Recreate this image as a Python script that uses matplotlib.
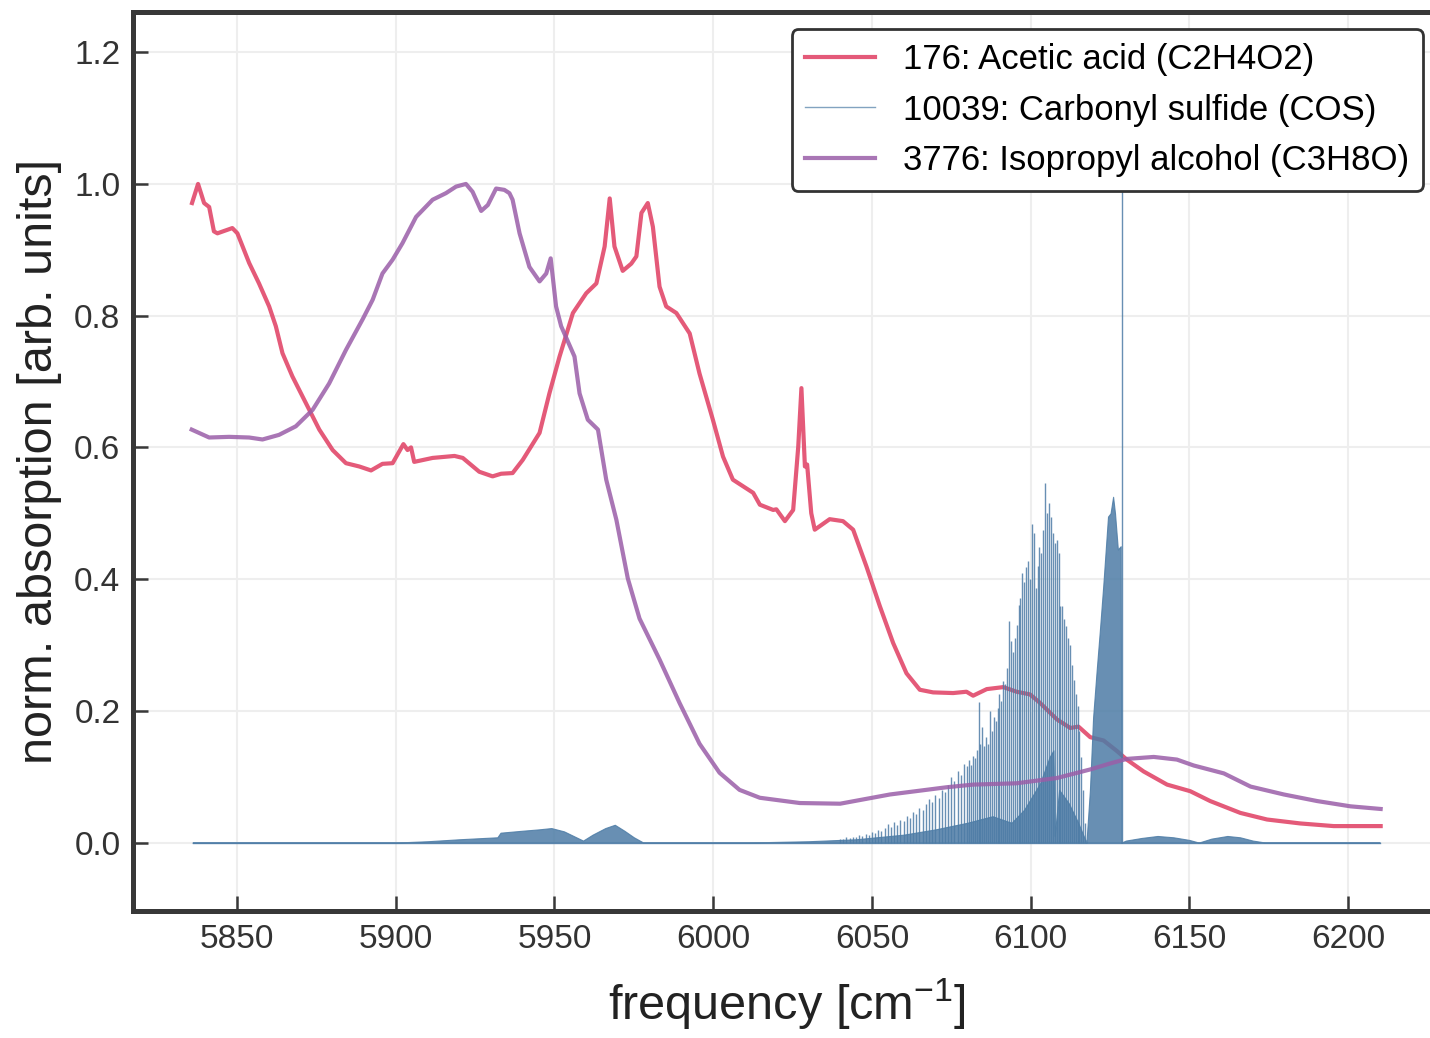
from matplotlib import pyplot as plt
from matplotlib.lines import Line2D
import numpy as np

# 176: Acetic acid
acetic_x = [5835.8, 5837.7, 5839.6, 5841.2, 5842.7, 5843.8, 5848.5, 5850.1, 5853.8, 5856.9,
            5860.1, 5862.2, 5864.3, 5867.4, 5871.7, 5875.9, 5880.1, 5884.3, 5888.5, 5892.2,
            5895.8, 5899.0, 5902.4, 5903.7, 5904.8, 5905.8, 5911.6, 5918.5, 5921.1, 5926.3,
            5930.5, 5933.2, 5936.8, 5940.0, 5945.3, 5948.4, 5951.6, 5955.8, 5960.0, 5963.2,
            5965.8, 5967.4, 5968.9, 5971.5, 5974.2, 5975.8, 5977.4, 5979.4, 5981.0, 5983.1,
            5985.2, 5988.4, 5992.6, 5995.7, 5999.9, 6003.1, 6006.2, 6009.4, 6012.6, 6014.7,
            6018.9, 6019.9, 6022.6, 6025.2, 6026.8, 6027.8, 6028.9, 6029.6, 6030.9, 6032.0,
            6036.7, 6040.9, 6044.1, 6048.3, 6052.5, 6056.7, 6060.9, 6065.1, 6069.3, 6075.6,
            6079.8, 6081.9, 6086.2, 6091.4, 6095.6, 6099.8, 6103.0, 6108.3, 6112.5, 6115.1,
            6118.8, 6123.0, 6127.2, 6130.3, 6135.6, 6143.0, 6150.3, 6156.6, 6166.1, 6174.5,
            6185.0, 6195.5, 6210.3]
acetic_y = [0.971, 1.000, 0.971, 0.965, 0.928, 0.925, 0.933, 0.925, 0.880, 0.849,
            0.814, 0.784, 0.743, 0.708, 0.667, 0.627, 0.596, 0.576, 0.571, 0.565,
            0.575, 0.576, 0.605, 0.596, 0.600, 0.578, 0.584, 0.587, 0.584, 0.563,
            0.556, 0.560, 0.561, 0.581, 0.622, 0.682, 0.738, 0.804, 0.834, 0.849,
            0.905, 0.978, 0.905, 0.868, 0.879, 0.890, 0.956, 0.971, 0.935, 0.844,
            0.814, 0.804, 0.773, 0.712, 0.642, 0.586, 0.551, 0.541, 0.531, 0.513,
            0.505, 0.506, 0.488, 0.505, 0.601, 0.690, 0.571, 0.574, 0.500, 0.475,
            0.491, 0.488, 0.475, 0.419, 0.359, 0.303, 0.257, 0.232, 0.228, 0.227,
            0.229, 0.223, 0.233, 0.236, 0.229, 0.225, 0.212, 0.187, 0.174, 0.176,
            0.160, 0.155, 0.139, 0.126, 0.108, 0.088, 0.078, 0.063, 0.045, 0.035,
            0.029, 0.025, 0.025]

# 3776: Isopropyl alcohol
iso_x = [5835.7, 5841.2, 5847.5, 5853.8, 5858.0, 5863.2, 5868.5, 5873.8, 5879.0, 5884.3,
         5889.5, 5892.7, 5895.8, 5899.0, 5902.1, 5906.4, 5911.6, 5915.8, 5919.0, 5922.1,
         5924.2, 5926.9, 5929.0, 5931.6, 5934.2, 5935.8, 5936.8, 5939.0, 5942.1, 5945.3,
         5947.4, 5948.8, 5950.5, 5952.1, 5956.3, 5957.9, 5960.5, 5963.7, 5966.3, 5969.5,
         5973.1, 5976.8, 5983.1, 5989.4, 5995.7, 6002.0, 6008.3, 6014.7, 6027.3, 6040.0,
         6055.7, 6073.6, 6081.9, 6095.6, 6108.3, 6118.8, 6125.0, 6130.3, 6138.8, 6146.1,
         6151.4, 6160.9, 6169.3, 6179.8, 6190.3, 6200.8, 6210.3]
iso_y = [0.627, 0.615, 0.616, 0.615, 0.612, 0.619, 0.632, 0.657, 0.697, 0.748,
         0.794, 0.824, 0.864, 0.885, 0.910, 0.950, 0.976, 0.986, 0.996, 1.000,
         0.988, 0.959, 0.968, 0.993, 0.991, 0.986, 0.976, 0.925, 0.874, 0.852,
         0.864, 0.887, 0.814, 0.784, 0.738, 0.682, 0.642, 0.627, 0.551, 0.490,
         0.401, 0.340, 0.278, 0.212, 0.150, 0.106, 0.080, 0.068, 0.060, 0.059,
         0.073, 0.084, 0.088, 0.090, 0.098, 0.111, 0.120, 0.127, 0.130, 0.126,
         0.117, 0.105, 0.085, 0.073, 0.063, 0.055, 0.051]

# 10039: Carbonyl sulfide - resolved lines (position, peak)
cos_line_x = [6040.0, 6041.0, 6042.0, 6043.0, 6044.0, 6045.0, 6046.0, 6047.0, 6048.0, 6049.0,
              6050.0, 6051.0, 6052.0, 6053.0, 6054.0, 6055.0, 6056.0, 6057.0, 6058.0, 6059.0,
              6060.0, 6061.0, 6062.0, 6063.0, 6064.0, 6065.0, 6066.0, 6067.0, 6068.0, 6069.0,
              6070.0, 6071.0, 6072.0, 6073.0, 6074.0, 6075.0, 6076.0, 6077.0, 6078.0, 6079.0,
              6080.0, 6080.6, 6081.2, 6081.8, 6082.4, 6083.0, 6083.6, 6084.2, 6084.8, 6085.4,
              6086.0, 6086.6, 6087.2, 6087.8, 6088.4, 6089.0, 6089.6, 6090.2, 6090.8, 6091.4,
              6092.0, 6092.6, 6093.2, 6093.8, 6094.4, 6095.0, 6095.6, 6096.2, 6096.8, 6097.4,
              6098.0, 6098.6, 6099.2, 6099.8, 6100.4, 6101.0, 6101.6, 6102.2, 6102.8, 6103.4,
              6104.0, 6104.6, 6105.2, 6105.8, 6106.4, 6107.0, 6107.6, 6108.2, 6108.8, 6109.4,
              6110.0, 6110.6, 6111.2, 6111.8, 6112.4, 6113.0, 6113.6, 6114.2, 6114.8, 6115.4,
              6116.0, 6116.6, 6117.2, 6128.7]
cos_line_h = [0.006, 0.005, 0.008, 0.007, 0.009, 0.008, 0.011, 0.010, 0.013, 0.012,
              0.016, 0.014, 0.019, 0.017, 0.022, 0.028, 0.024, 0.031, 0.027, 0.035,
              0.032, 0.040, 0.037, 0.046, 0.043, 0.052, 0.049, 0.058, 0.066, 0.061,
              0.072, 0.068, 0.080, 0.077, 0.088, 0.099, 0.094, 0.108, 0.103, 0.120,
              0.116, 0.125, 0.118, 0.132, 0.128, 0.140, 0.214, 0.150, 0.176, 0.146,
              0.160, 0.150, 0.199, 0.170, 0.190, 0.185, 0.205, 0.225, 0.215, 0.245,
              0.240, 0.265, 0.336, 0.306, 0.290, 0.310, 0.330, 0.360, 0.371, 0.409,
              0.395, 0.419, 0.427, 0.400, 0.483, 0.470, 0.387, 0.420, 0.449, 0.440,
              0.475, 0.546, 0.500, 0.515, 0.495, 0.470, 0.455, 0.460, 0.440, 0.359,
              0.359, 0.340, 0.329, 0.310, 0.300, 0.270, 0.247, 0.225, 0.207, 0.170,
              0.130, 0.080, 0.030, 1.000]

# 10039: Carbonyl sulfide - unresolved dense part (envelope)
cos_fill_x = [5836.0, 5900.0, 5910.0, 5920.0, 5932.0, 5933.0, 5940.0, 5945.0, 5949.0, 5953.0,
              5956.0, 5959.0, 5962.0, 5966.0, 5969.0, 5972.0, 5975.0, 5978.0, 6010.0, 6030.0,
              6045.0, 6060.0, 6070.0, 6080.0, 6088.0, 6094.0, 6098.0, 6103.0, 6106.0, 6107.2,
              6107.6, 6109.0, 6112.0, 6115.0, 6117.6, 6118.7, 6119.7, 6120.8, 6121.8, 6122.9,
              6123.9, 6124.4, 6125.2, 6126.0, 6126.6, 6127.5, 6128.4, 6128.6, 6130.0, 6135.0,
              6140.0, 6145.0, 6150.0, 6153.0, 6157.0, 6162.0, 6166.0, 6170.0, 6174.0, 6210.0]
cos_fill_y = [0.000, 0.000, 0.002, 0.005, 0.008, 0.015, 0.018, 0.020, 0.022, 0.017,
              0.010, 0.003, 0.012, 0.022, 0.027, 0.018, 0.008, 0.000, 0.000, 0.002,
              0.005, 0.012, 0.020, 0.030, 0.040, 0.030, 0.050, 0.090, 0.130, 0.140,
              0.010, 0.080, 0.060, 0.030, 0.000, 0.080, 0.190, 0.260, 0.320, 0.390,
              0.460, 0.495, 0.500, 0.525, 0.500, 0.445, 0.450, 0.000, 0.003, 0.007,
              0.010, 0.008, 0.004, 0.000, 0.006, 0.010, 0.008, 0.003, 0.000, 0.000]

labels = ['176: Acetic acid (C2H4O2)', '10039: Carbonyl sulfide (COS)',
          '3776: Isopropyl alcohol (C3H8O)']
colors = ['#e1486a', '#4d7ca6', '#9a5ea8']

plt.rcParams['font.family'] = ['Liberation Sans', 'DejaVu Sans']
plt.rcParams['mathtext.default'] = 'regular'

fig = plt.figure(figsize=(14.3, 10.38), dpi=100)
ax = fig.add_axes([0.0930, 0.1223, 0.9140, 0.8661])

ax.plot(acetic_x, acetic_y, color=colors[0], lw=3, alpha=0.9, zorder=3,
        solid_joinstyle='round')
ax.plot([cos_fill_x[0], cos_fill_x[-1]], [0, 0], color=colors[1], lw=1, alpha=0.8, zorder=4)
ax.fill_between(cos_fill_x, 0, cos_fill_y, color=colors[1], lw=0.8, alpha=0.85, zorder=4)
ax.vlines(cos_line_x, 0, cos_line_h, color=colors[1], lw=1.0, alpha=0.85, zorder=4)
ax.plot(iso_x, iso_y, color=colors[2], lw=3, alpha=0.85, zorder=5,
        solid_joinstyle='round')

ax.set_xlim(5817.2, 6229.0)
ax.set_ylim(-0.104, 1.261)
ax.set_xticks([5850, 5900, 5950, 6000, 6050, 6100, 6150, 6200])
ax.set_yticks(np.arange(0, 1.21, 0.2))
ax.set_yticklabels(['0.0', '0.2', '0.4', '0.6', '0.8', '1.0', '1.2'])
ax.grid(True, color='#eeeeee', lw=1.5, zorder=0)
ax.set_axisbelow(True)

for side in ['left', 'bottom', 'top']:
    ax.spines[side].set_linewidth(3.6)
    ax.spines[side].set_color('#383838')
ax.spines['right'].set_visible(False)
ax.tick_params(direction='in', length=11, width=1.8, color='#383838',
               labelsize=24, labelcolor='#333333', pad=9)

ax.set_xlabel('frequency [cm$^{-1}$]', fontsize=35, color='#222222', labelpad=16)
ax.set_ylabel('norm. absorption [arb. units]', fontsize=35, color='#222222', labelpad=9)

handles = [Line2D([], [], color=colors[0], lw=3, alpha=0.9),
           Line2D([], [], color=colors[1], lw=1, alpha=0.7),
           Line2D([], [], color=colors[2], lw=3, alpha=0.85)]
leg = ax.legend(handles, labels, loc='upper right', fontsize=25, frameon=True,
                fancybox=True, framealpha=1, edgecolor='#333333', labelspacing=0.5)
leg.get_frame().set_linewidth(2)
leg.set_zorder(10)

fig.savefig('out.png', dpi=100)
